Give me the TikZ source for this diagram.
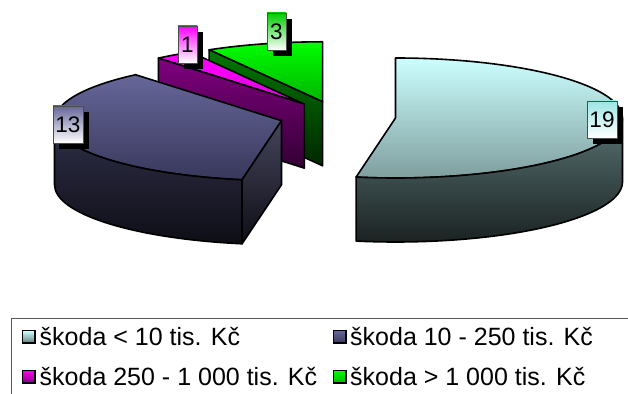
\documentclass[tikz,border=0pt]{standalone}
\usepackage{fontspec}
\setmainfont{Liberation Sans}
\usetikzlibrary{calc,shadows}
\definecolor{cyTop}{HTML}{CCFFFF}
\definecolor{cyMid}{HTML}{7C9A9A}
\definecolor{cySideT}{HTML}{587272}
\definecolor{cySideB}{HTML}{1A2121}
\definecolor{blTop}{HTML}{666699}
\definecolor{blMid}{HTML}{38385C}
\definecolor{blSideT}{HTML}{30304A}
\definecolor{blSideB}{HTML}{0E0E16}
\definecolor{pkTop}{HTML}{FF00FF}
\definecolor{pkMid}{HTML}{E000E0}
\definecolor{pkWallT}{HTML}{800080}
\definecolor{pkWallB}{HTML}{330033}
\definecolor{gnTop}{HTML}{00FF00}
\definecolor{gnMid}{HTML}{00B400}
\definecolor{gnWallT}{HTML}{007800}
\definecolor{gnWallB}{HTML}{002800}
\tikzset{
  slice/.style={draw=black, line width=1.6pt, line join=round},
  ell/.style={x radius=227, y radius=60},
  lbl/.style={draw=black!70, line width=0.7pt, inner sep=0pt, minimum height=37pt,
    font=\fontsize{22.5}{22.5}\selectfont, bottom color=white,
    drop shadow={shadow xshift=6pt, shadow yshift=-6pt, fill=black, opacity=1}},
  legsq/.style={draw=black, line width=1.5pt, minimum size=12.5pt, inner sep=0pt},
  legtxt/.style={anchor=base west, inner sep=0pt, font=\fontsize{25}{25}\selectfont}
}
\begin{document}
\begin{tikzpicture}[x=1pt,y=1pt]
\useasboundingbox (0,0) rectangle (628,393);
\clip (0,0) rectangle (628,393);
\fill[white] (0,0) rectangle (628,393);
% slice tips
\coordinate (t1) at (395.5,275.0);
\coordinate (t2) at (281.5,272.3);
\coordinate (t3) at (304.3,288.9);
\coordinate (t4) at (322.6,291.2);
\coordinate (t1b) at (395.5,211.0);
\coordinate (t2b) at (281.5,208.3);
\coordinate (t3b) at (304.3,224.9);
\coordinate (t4b) at (322.6,227.2);
% green slice (3)
\path[slice, top color=gnTop, bottom color=gnMid] (t4) -- ++(90:227 and 60) arc[ell, start angle=90, end angle=120] -- cycle;
\path[slice, top color=gnWallT, bottom color=gnWallB] (t4) -- ++(120:227 and 60) -- ++(0,-64) -- (t4b) -- cycle;
% pink slice (1)
\path[slice, top color=pkTop, bottom color=pkMid] (t3) -- ++(120:227 and 60) arc[ell, start angle=120, end angle=130] -- cycle;
\path[slice, top color=pkWallT, bottom color=pkWallB] (t3) -- ++(130:227 and 60) -- ++(0,-64) -- (t3b) -- cycle;
% blue slice (13)
\path[slice, top color=blTop, bottom color=blMid] (t2) -- ++(130:227 and 60) arc[ell, start angle=130, end angle=260] -- cycle;
\path[slice, top color=blSideT, bottom color=blSideB] (t2) ++(180:227 and 60) arc[ell, start angle=180, end angle=260] -- ++(0,-64) arc[ell, start angle=260, end angle=180] -- cycle;
\path[slice, top color=blSideT!90!white, bottom color=blSideB] (t2) -- ++(260:227 and 60) -- ++(0,-64) -- (t2b) -- cycle;
% big slice (19)
\path[slice, top color=cyTop, bottom color=cyMid] (t1) -- ++(-100:227 and 60) arc[ell, start angle=-100, end angle=90] -- cycle;
\path[slice, top color=cySideT, bottom color=cySideB] (t1) ++(-100:227 and 60) arc[ell, start angle=-100, end angle=0] -- ++(0,-64) arc[ell, start angle=0, end angle=-100] -- cycle;
% labels
\node[lbl, minimum width=30pt, top color=cyTop!85!cyan!90!black] (l19) at (602,273.5) {19};
\node[lbl, minimum width=30pt, top color=blTop] (l13) at (68,268.5) {13};
\node[lbl, minimum width=19pt, top color=pkTop] (l1) at (187.5,348.5) {1};
\node[lbl, minimum width=19pt, top color=gnTop!80!black] (l3) at (276.5,361.5) {3};
% legend
\draw[draw=black!65, line width=0.8pt] (11.7,75) rectangle (650,-20);
\node[legsq, top color=cyTop, bottom color=cyMid!80!black] (s1) at (28.5,56) {};
\node[legsq, top color=blTop, bottom color=blMid] (s2) at (339.7,56) {};
\node[legsq, top color=pkTop, bottom color=pkWallT] (s3) at (28.5,16.3) {};
\node[legsq, top color=gnTop, bottom color=gnMid] (s4) at (339.7,16.3) {};
\node[legtxt] (x1) at (39.5,48) {škoda < 10 tis. Kč};
\node[legtxt] (x2) at (350,48) {škoda 10 - 250 tis. Kč};
\node[legtxt] (x3) at (39.5,8) {škoda 250 - 1 000 tis. Kč};
\node[legtxt] (x4) at (350,8) {škoda > 1 000 tis. Kč};
\end{tikzpicture}
\end{document}
